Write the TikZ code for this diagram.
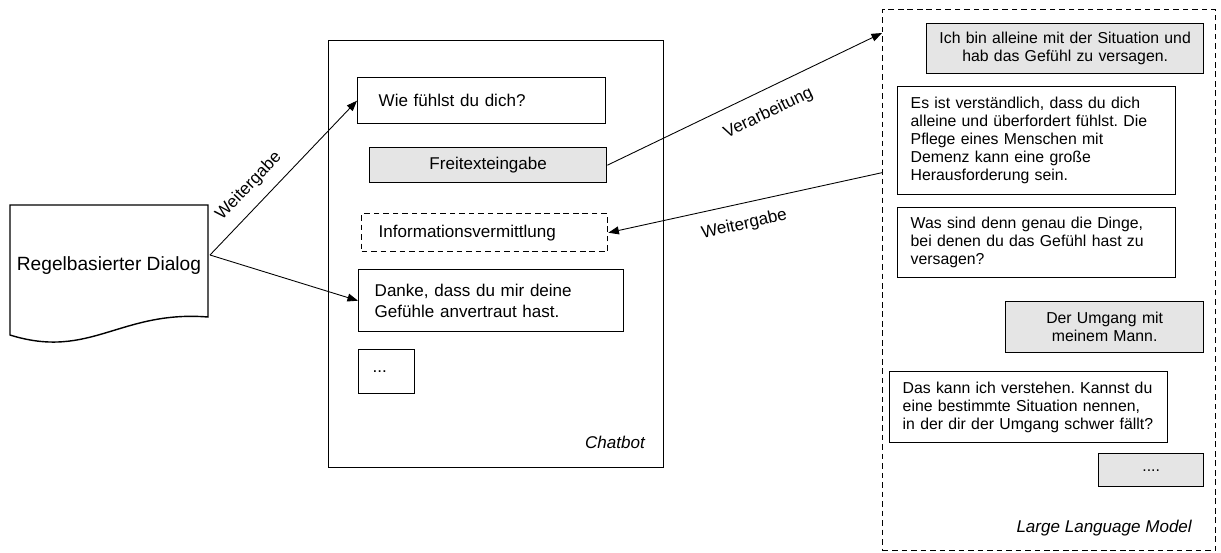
\documentclass[tikz,border=0pt]{standalone}
\usepackage{fontspec}
\setmainfont{Liberation Sans}
\usepackage{tikz}
\usetikzlibrary{arrows.meta,calc}
\definecolor{bubblegray}{RGB}{229,229,229}
\frenchspacing

\tikzset{
  bubble/.style={draw, line width=0.8pt, anchor=north west, inner ysep=0pt, align=left,
    font=\fontsize{9.7}{11.7}\selectfont},
  llmbubble/.style={bubble, font=\fontsize{9}{10.2}\selectfont},
  userbubble/.style={llmbubble, fill=bubblegray, align=center},
  frame/.style={draw, line width=0.8pt, anchor=north west},
  dashline/.style={dash pattern=on 3.2pt off 2.2pt},
  flow/.style={-{Triangle[length=6pt,width=4.5pt]}, line width=0.5pt},
  flowlabel/.style={font=\fontsize{9.7}{11.7}\selectfont, sloped},
}

\begin{document}
\begin{tikzpicture}[x=0.02cm, y=-0.02cm]
\useasboundingbox (0,0) rectangle (1221,552);

% Regelbasierter Dialog
\draw[line width=0.8pt] (10,205) -- (208,205) -- (208,317)
  .. controls (120,310) and (90,360) .. (10,335) -- cycle;
\node[font=\fontsize{10.9}{13}\selectfont] (dialog) at (109,266) {Regelbasierter Dialog};
\coordinate (dout) at (210,255);

% Chatbot
\node[frame, minimum width=6.7cm, minimum height=8.54cm] (chatbot) at (328,40) {};
\node[font=\fontsize{9.7}{11.7}\selectfont\itshape, anchor=base east] (chatlabel) at (651,448) {Chatbot};

\node[bubble, minimum height=0.92cm, inner xsep=0.42cm, text width=4.12cm] (wie) at (357,77) {Wie fühlst du dich?};
\node[bubble, fill=bubblegray, align=center, minimum height=0.70cm, inner xsep=0.1cm, text width=4.54cm] (frei) at (369,147) {Freitexteingabe};
\node[bubble, dashline, minimum height=0.76cm, inner xsep=0.34cm, text width=4.24cm] (info) at (361,213) {Informationsvermittlung};
\node[bubble, minimum height=1.24cm, inner xsep=0.32cm, text width=4.66cm] (danke) at (358,269) {Danke, dass du mir deine\\Gefühle anvertraut hast.};
\node[bubble, minimum height=0.88cm, inner xsep=0.28cm, text width=0.56cm] (more) at (358,349) {...};

% Large Language Model
\node[frame, dashline, minimum width=6.66cm, minimum height=10.82cm] (llm) at (882,9) {};
\node[font=\fontsize{9.7}{11.7}\selectfont\itshape, anchor=base east] (llmlabel) at (1198,532) {Large Language Model};

\node[userbubble, minimum height=1.0cm, inner xsep=0.1cm, text width=5.34cm] (ich) at (926,23) {Ich bin alleine mit der Situation und\\hab das Gefühl zu versagen.};
\node[llmbubble, minimum height=2.16cm, inner xsep=0.26cm, text width=5.04cm] (es) at (897,86) {Es ist verständlich, dass du dich\\alleine und überfordert fühlst. Die\\Pflege eines Menschen mit\\Demenz kann eine große\\Herausforderung sein.};
\node[llmbubble, minimum height=1.40cm, inner xsep=0.26cm, text width=5.04cm] (was) at (897,207) {Was sind denn genau die Dinge,\\bei denen du das Gefühl hast zu\\versagen?};
\node[userbubble, minimum height=1.02cm, inner xsep=0.1cm, text width=3.76cm] (mann) at (1005,301) {Der Umgang mit\\meinem Mann.};
\node[llmbubble, minimum height=1.42cm, inner xsep=0.26cm, text width=5.04cm] (kann) at (889,371) {Das kann ich verstehen. Kannst du\\eine bestimmte Situation nennen,\\in der dir der Umgang schwer fällt?};
\node[userbubble, minimum height=0.66cm, inner xsep=0.1cm, text width=1.9cm] (mehr) at (1098,453) {....};

% connectors
\draw[flow] (dout) -- node[flowlabel, pos=0.36, above=3pt] {Weitergabe} (wie.west);
\draw[flow] (dout) -- (danke.west);
\draw[flow] (frei.east) -- node[flowlabel, pos=0.55, below=5pt] {Verarbeitung} ([yshift=-0.48cm]llm.north west);
\draw[flow] ([yshift=2.15cm]llm.west) -- node[flowlabel, pos=0.52, below=4pt] {Weitergabe} (info.east);
\end{tikzpicture}
\end{document}
